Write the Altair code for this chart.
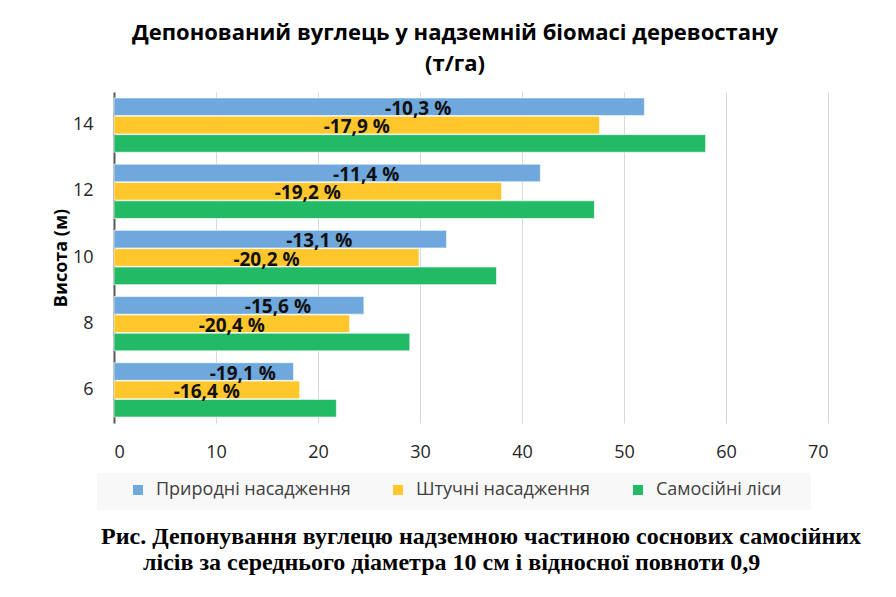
import altair as alt
import pandas as pd

# ---- data ----
heights = ["14", "12", "10", "8", "6"]
series = ["Природні насадження", "Штучні насадження", "Самосійні ліси"]
natural = [52.0, 41.8, 32.6, 24.5, 17.6]
artificial = [47.6, 38.0, 29.9, 23.1, 18.2]
selfsown = [58.0, 47.1, 37.5, 29.0, 21.8]
natural_labels = ["-10,3 %", "-11,4 %", "-13,1 %", "-15,6 %", "-19,1 %"]
artificial_labels = ["-17,9 %", "-19,2 %", "-20,2 %", "-20,4 %", "-16,4 %"]
colors = ["#6FA8DC", "#FFC72C", "#23BA66"]
x_ticks = [0, 10, 20, 30, 40, 50, 60, 70]

title_lines = ["Депонований вуглець у надземній біомасі деревостану", "(т/га)"]
caption_1 = "Рис. Депонування вуглецю надземною частиною соснових самосійних"
caption_2 = "лісів за середнього діаметра 10 см і відносної повноти 0,9"

rows = []
for i, h in enumerate(heights):
    rows.append({"height": h, "series": series[0], "value": natural[i], "label": natural_labels[i]})
    rows.append({"height": h, "series": series[1], "value": artificial[i], "label": artificial_labels[i]})
    rows.append({"height": h, "series": series[2], "value": selfsown[i], "label": ""})
df = pd.DataFrame(rows)

W, H = 714, 331
FONT = "Open Sans"

x_enc = alt.X("value:Q", scale=alt.Scale(domain=[0, 70], nice=False),
              axis=alt.Axis(values=x_ticks, title=None, grid=True, gridColor="#d9d9d9",
                            domain=False, ticks=False, labelFontSize=18, labelFont=FONT,
                            labelColor="#262626", labelPadding=20))
y_enc = alt.Y("height:N", sort=heights,
              scale=alt.Scale(paddingInner=0.18, paddingOuter=0.09),
              axis=alt.Axis(title="Висота (м)", titleFont=FONT, titleFontSize=18,
                            titleFontWeight="bold", titleColor="#000000",
                            titleAngle=270, titleX=-53, titleY=H / 2, titleBaseline="middle",
                            titleAlign="center",
                            labelFontSize=18, labelFont=FONT, labelColor="#262626",
                            labelPadding=21, ticks=False, domainColor="#595959",
                            domainWidth=2, grid=False))
yoff = alt.YOffset("series:N", sort=series, scale=alt.Scale(paddingInner=0.04))

color_enc = alt.Color("series:N", sort=series,
                      scale=alt.Scale(domain=series, range=colors),
                      legend=alt.Legend(orient="none", legendX=15, legendY=389,
                                        direction="horizontal", title=None,
                                        symbolType="square", symbolSize=100,
                                        symbolStrokeWidth=0, labelFontSize=18,
                                        labelFont=FONT, labelColor="#404040",
                                        labelLimit=0,
                                        labelOffset=9, columnPadding=38, padding=0))

legend_bg = alt.Chart(pd.DataFrame({"k": [0]})).mark_rect(color="#f8f8f8").encode(
    x=alt.value(-17), x2=alt.value(697), y=alt.value(381), y2=alt.value(418))

bars = alt.Chart(df).mark_bar(stroke="#ffffff", strokeWidth=1, strokeOpacity=0.6).encode(
    x=x_enc, y=y_enc, yOffset=yoff, color=color_enc)

lab_base = alt.Chart(df).transform_calculate(mid="datum.value / 2")
lab_nat = lab_base.transform_filter(alt.datum.series == series[0]).mark_text(
    font=FONT, fontSize=19, fontWeight="bold", color="#111111", baseline="middle", dx=39, dy=2
).encode(x=alt.X("mid:Q"), y=alt.Y("height:N", sort=heights), yOffset=yoff, text="label:N")
lab_art = lab_base.transform_filter(alt.datum.series == series[1]).mark_text(
    font=FONT, fontSize=19, fontWeight="bold", color="#111111", baseline="middle", dy=2
).encode(x=alt.X("mid:Q"), y=alt.Y("height:N", sort=heights), yOffset=yoff, text="label:N")

cap1 = alt.Chart(pd.DataFrame({"t": [caption_1]})).mark_text(
    font="Liberation Serif", fontSize=24, fontWeight="bold", color="#000000",
    align="left", baseline="alphabetic").encode(
    x=alt.value(-13), y=alt.value(452), text="t:N")
cap2 = alt.Chart(pd.DataFrame({"t": [caption_2]})).mark_text(
    font="Liberation Serif", fontSize=24, fontWeight="bold", color="#000000",
    align="left", baseline="alphabetic").encode(
    x=alt.value(29), y=alt.value(478), text="t:N")

chart = alt.layer(legend_bg, bars, lab_nat, lab_art, cap1, cap2).properties(
    width=W, height=H,
    title=alt.TitleParams(title_lines, font=FONT, fontSize=22, fontWeight="bold",
                          color="#000000", anchor="middle", frame="group", dx=-16,
                          offset=16, lineHeight=31),
    autosize=alt.AutoSizeParams(type="none"),
    padding={"left": 106, "top": 84, "right": 60, "bottom": 166},
).configure_view(stroke=None).resolve_scale(x="shared", y="shared")

chart.save("out.html", embed_options={"renderer": "svg", "actions": False})
